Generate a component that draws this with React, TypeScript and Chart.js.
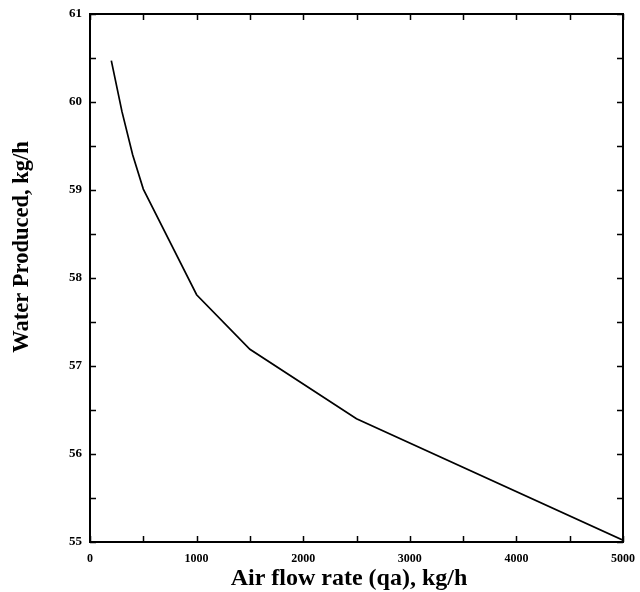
import React, { useEffect, useRef } from "react";
import { Chart, registerables } from "chart.js";

Chart.register(...registerables);

const airFlow = [200, 300, 400, 500, 1000, 1500, 2500, 5000];
const waterProduced = [60.47, 59.89, 59.4, 59.01, 57.81, 57.19, 56.4, 55.02];
const xRange = [0, 5000];
const yRange = [55, 61];
const xMajorStep = 1000;
const yMajorStep = 1;
const xMinorStep = 500;
const yMinorStep = 0.5;
const xTitle = "Air flow rate (qa), kg/h";
const yTitle = "Water Produced, kg/h";

const FONT = "'Liberation Serif', 'Times New Roman', serif";

const framePlugin = {
  id: "frame",
  afterDraw(chart: any) {
    const { ctx, chartArea } = chart;
    const { left, right, top, bottom } = chartArea;
    const xs = chart.scales.x;
    const ys = chart.scales.y;
    ctx.save();
    ctx.strokeStyle = "#000";
    ctx.lineWidth = 2;
    ctx.strokeRect(left, top, right - left, bottom - top);
    ctx.lineWidth = 1.5;
    const tl = 6;
    ctx.beginPath();
    for (let v = xRange[0]; v <= xRange[1] + 1e-9; v += xMinorStep) {
      const px = Math.round(xs.getPixelForValue(v)) + 0.5;
      ctx.moveTo(px, bottom);
      ctx.lineTo(px, bottom - tl);
      ctx.moveTo(px, top);
      ctx.lineTo(px, top + tl);
    }
    for (let v = yRange[0]; v <= yRange[1] + 1e-9; v += yMinorStep) {
      const py = Math.round(ys.getPixelForValue(v)) + 0.5;
      ctx.moveTo(left, py);
      ctx.lineTo(left + tl, py);
      ctx.moveTo(right, py);
      ctx.lineTo(right - tl, py);
    }
    ctx.stroke();

    ctx.fillStyle = "#000";
    ctx.textAlign = "center";
    ctx.textBaseline = "alphabetic";
    ctx.font = `bold 24px ${FONT}`;
    ctx.fillText(xTitle, 349, 585);
    ctx.font = `bold 22.5px ${FONT}`;
    ctx.translate(28, 247);
    ctx.rotate(-Math.PI / 2);
    ctx.fillText(yTitle, 0, 0);
    ctx.restore();
  },
};

export default function App() {
  const ref = useRef<HTMLCanvasElement | null>(null);
  useEffect(() => {
    document.body.style.margin = "0";
    const canvas = ref.current;
    if (!canvas) return;
    const chart = new Chart(canvas, {
      type: "line",
      data: {
        datasets: [
          {
            data: airFlow.map((x, i) => ({ x, y: waterProduced[i] })),
            borderColor: "#000",
            borderWidth: 1.7,
            pointRadius: 0,
            tension: 0,
            fill: false,
          },
        ],
      },
      options: {
        animation: false,
        responsive: false,
        devicePixelRatio: 1,
        layout: { padding: { top: 14, right: 17, left: 0, bottom: 0 } },
        plugins: { legend: { display: false }, tooltip: { enabled: false } },
        scales: {
          x: {
            type: "linear",
            min: xRange[0],
            max: xRange[1],
            afterFit: (s: any) => {
              s.height = 50;
              s.paddingLeft = 0;
              s.paddingRight = 0;
            },
            grid: { display: true, drawOnChartArea: false, drawTicks: false },
            border: { display: false },
            ticks: {
              stepSize: xMajorStep,
              padding: 10,
              color: "#000",
              maxRotation: 0,
              callback: (v: any) => String(v),
              font: { family: FONT, weight: "bold", size: 12 },
            },
          },
          y: {
            type: "linear",
            min: yRange[0],
            max: yRange[1],
            afterFit: (s: any) => {
              s.width = 90;
              s.paddingTop = 0;
              s.paddingBottom = 0;
            },
            grid: { display: true, drawOnChartArea: false, drawTicks: false },
            border: { display: false },
            ticks: {
              stepSize: yMajorStep,
              padding: 8,
              color: "#000",
              callback: (v: any) => String(v),
              font: { family: FONT, weight: "bold", size: 13 },
            },
          },
        },
      },
      plugins: [framePlugin],
    });
    return () => chart.destroy();
  }, []);
  return (
    <div style={{ width: 640, height: 592, background: "#fff" }}>
      <canvas ref={ref} width={640} height={592} />
    </div>
  );
}
